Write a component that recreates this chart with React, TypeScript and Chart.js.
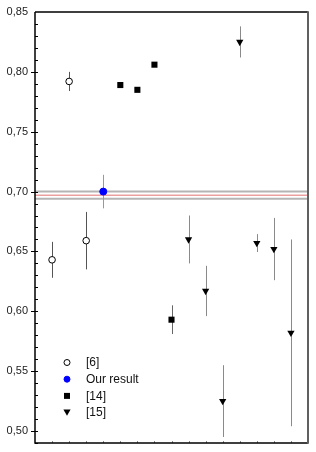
import React, { useEffect, useRef } from "react";
import { Chart, registerables } from "chart.js";

Chart.register(...registerables);

// ---- data ----
const labels6 = "[6]";
const x6 = [1, 2, 3];
const y6 = [0.643, 0.792, 0.659];
const err6 = [0.015, 0.008, 0.024];

const labelOur = "Our result";
const xOur = [4];
const yOur = [0.7];
const errOur = [0.014];

const label14 = "[14]";
const x14 = [5, 6, 7, 8];
const y14 = [0.789, 0.785, 0.806, 0.593];
const err14 = [0, 0, 0, 0.012];

const label15 = "[15]";
const x15 = [9, 10, 11, 12, 13, 14, 15];
const y15 = [0.66, 0.617, 0.525, 0.825, 0.657, 0.652, 0.582];
const err15 = [0.02, 0.021, 0.03, 0.013, 0.0075, 0.026, 0.078];

const refLinesGray = [0.7, 0.694];
const refLineRed = [0.697];

const yTickValues = [0.5, 0.55, 0.6, 0.65, 0.7, 0.75, 0.8, 0.85];
const yTickLabels = ["0,50", "0,55", "0,60", "0,65", "0,70", "0,75", "0,80", "0,85"];
const yMinorTicks = Array.from({ length: 36 }, (_, i) => Math.round((0.49 + i * 0.01) * 100) / 100);
const xMinorTicks = [1, 2, 3, 4, 5, 6, 7, 8, 9, 10, 11, 12, 13, 14, 15];

const FONT = "'Liberation Sans', Arial, Helvetica, sans-serif";

function pts(xs: number[], ys: number[]) {
  return xs.map((x, i) => ({ x, y: ys[i] }));
}

const customPlugin = {
  id: "custom",
  beforeDatasetsDraw(chart: any) {
    const { ctx, chartArea: a, scales } = chart;
    const x = scales.x;
    const y = scales.y;
    ctx.save();
    refLinesGray.forEach((v) => {
      const py = y.getPixelForValue(v);
      ctx.strokeStyle = "#b4b4b4";
      ctx.lineWidth = 2;
      ctx.beginPath();
      ctx.moveTo(a.left, py);
      ctx.lineTo(a.right, py);
      ctx.stroke();
    });
    refLineRed.forEach((v) => {
      const py = y.getPixelForValue(v);
      ctx.strokeStyle = "#e07070";
      ctx.lineWidth = 1;
      ctx.beginPath();
      ctx.moveTo(a.left, py);
      ctx.lineTo(a.right, py);
      ctx.stroke();
    });
    chart.data.datasets.forEach((ds: any) => {
      ds.errors.forEach((e: number, i: number) => {
        if (!e) return;
        const p = ds.data[i];
        const px = Math.round(x.getPixelForValue(p.x)) + 0.5;
        ctx.strokeStyle = ds.errorColor;
        ctx.lineWidth = 1;
        ctx.beginPath();
        ctx.moveTo(px, y.getPixelForValue(p.y + e));
        ctx.lineTo(px, y.getPixelForValue(p.y - e));
        ctx.stroke();
      });
    });
    ctx.restore();
  },
  afterDraw(chart: any) {
    const { ctx, chartArea: a, scales } = chart;
    const x = scales.x;
    const y = scales.y;
    ctx.save();
    // y ticks
    ctx.strokeStyle = "#000";
    ctx.lineWidth = 1;
    yMinorTicks.forEach((v) => {
      const py = Math.round(y.getPixelForValue(v)) + 0.5;
      const major = yTickValues.some((t) => Math.abs(t - v) < 1e-6);
      ctx.beginPath();
      ctx.moveTo(a.left - (major ? 4 : 0), py);
      ctx.lineTo(a.left + 3, py);
      ctx.stroke();
    });
    // y tick labels
    ctx.fillStyle = "#222";
    ctx.font = `11px ${FONT}`;
    ctx.textAlign = "right";
    ctx.textBaseline = "middle";
    yTickValues.forEach((v, i) => {
      ctx.fillText(yTickLabels[i], a.left - 7, y.getPixelForValue(v));
    });
    // x minor ticks
    ctx.strokeStyle = "#888";
    xMinorTicks.forEach((v) => {
      const px = Math.round(x.getPixelForValue(v)) + 0.5;
      ctx.beginPath();
      ctx.moveTo(px, a.bottom);
      ctx.lineTo(px, a.bottom - 2);
      ctx.stroke();
    });
    // borders
    ctx.strokeStyle = "#000";
    ctx.lineWidth = 1.5;
    ctx.beginPath();
    ctx.moveTo(a.left, a.top);
    ctx.lineTo(a.right, a.top);
    ctx.moveTo(a.left, a.top);
    ctx.lineTo(a.left, a.bottom);
    ctx.lineTo(a.right, a.bottom);
    ctx.stroke();
    ctx.strokeStyle = "#606060";
    ctx.lineWidth = 2;
    ctx.beginPath();
    ctx.moveTo(a.right, a.top - 0.75);
    ctx.lineTo(a.right, a.bottom + 0.75);
    ctx.stroke();

    // legend
    const sx = a.left + 32;
    const tx = a.left + 51;
    const y0 = a.bottom - 80.5;
    const dy = 16.7;
    ctx.font = `12px ${FONT}`;
    ctx.textBaseline = "middle";
    ctx.textAlign = "left";
    chart.data.datasets.forEach((ds: any, i: number) => {
      const cy = y0 + i * dy;
      ctx.fillStyle = ds.backgroundColor;
      ctx.strokeStyle = ds.borderColor;
      ctx.lineWidth = 1;
      ctx.beginPath();
      if (ds.pointStyle === "circle") {
        ctx.arc(sx, cy, 3, 0, Math.PI * 2);
        ctx.fill();
        ctx.stroke();
      } else if (ds.pointStyle === "rect") {
        ctx.rect(sx - 3, cy - 3, 6, 6);
        ctx.fill();
      } else {
        ctx.moveTo(sx - 3.6, cy - 3);
        ctx.lineTo(sx + 3.6, cy - 3);
        ctx.lineTo(sx, cy + 3.2);
        ctx.closePath();
        ctx.fill();
      }
      ctx.fillStyle = "#111";
      ctx.fillText(ds.label, tx, cy + 0.5);
    });
    ctx.restore();
  },
};

export default function App() {
  const ref = useRef<HTMLCanvasElement | null>(null);
  useEffect(() => {
    document.body.style.margin = "0";
    if (!ref.current) return;
    const chart = new Chart(ref.current, {
      type: "scatter",
      data: {
        datasets: [
          {
            label: labels6,
            data: pts(x6, y6),
            errors: err6,
            errorColor: "#555",
            pointStyle: "circle",
            pointRadius: 3.3,
            backgroundColor: "#fff",
            borderColor: "#000",
            borderWidth: 1,
          },
          {
            label: labelOur,
            data: pts(xOur, yOur),
            errors: errOur,
            errorColor: "#8c8cff",
            pointStyle: "circle",
            pointRadius: 3.5,
            backgroundColor: "#0000ff",
            borderColor: "#0000ff",
            borderWidth: 1,
          },
          {
            label: label14,
            data: pts(x14, y14),
            errors: err14,
            errorColor: "#666",
            pointStyle: "rect",
            pointRadius: 4.3,
            backgroundColor: "#000",
            borderColor: "#000",
            borderWidth: 0,
          },
          {
            label: label15,
            data: pts(x15, y15),
            errors: err15,
            errorColor: "#8a8a8a",
            pointStyle: "triangle",
            rotation: 180,
            pointRadius: 4.2,
            backgroundColor: "#000",
            borderColor: "#000",
            borderWidth: 0,
          },
        ] as any,
      },
      options: {
        animation: false,
        responsive: false,
        layout: { padding: { top: 12, right: 8, bottom: 9, left: 35 } },
        plugins: { legend: { display: false }, tooltip: { enabled: false } },
        scales: {
          x: { type: "linear", min: 0, max: 16, display: false },
          y: { type: "linear", min: 0.49, max: 0.85, display: false },
        },
      } as any,
      plugins: [customPlugin],
    });
    return () => chart.destroy();
  }, []);
  return (
    <div style={{ position: "absolute", left: 0, top: 0, width: 316, height: 452 }}>
      <canvas ref={ref} width={316} height={452} style={{ display: "block" }} />
    </div>
  );
}
